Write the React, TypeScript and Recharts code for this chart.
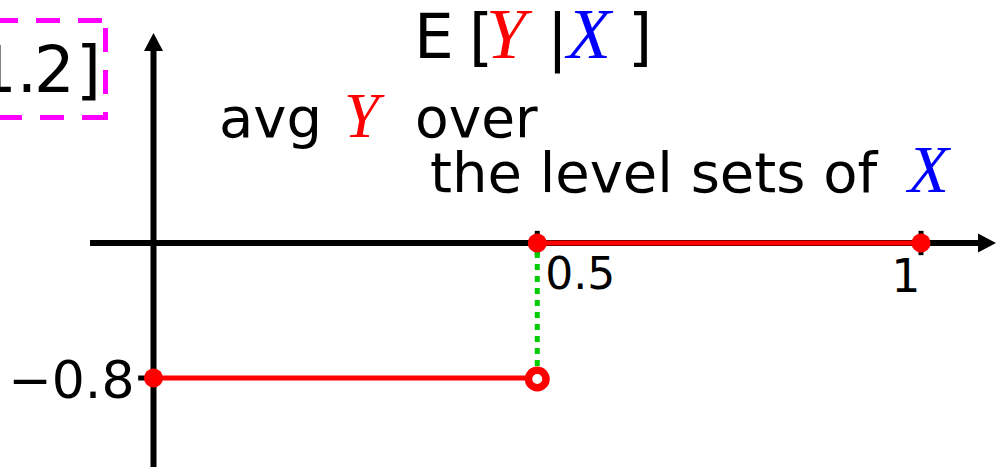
import React from 'react';
import { ComposedChart, Line, XAxis, YAxis, ReferenceLine, ReferenceDot } from 'recharts';

// ---- data ----
const lowerStep = [
  { x: 0, y: -0.8, end: 'closed' },
  { x: 0.5, y: -0.8, end: 'open' },
];
const upperStep = [
  { x: 0.5, y: 0, end: 'closed' },
  { x: 1, y: 0, end: 'closed' },
];
const jumpX = 0.5;
const jumpFrom = -0.8;
const jumpTo = 0;
const xTicks = [0.5, 1];
const xTickLabels = ['0.5', '1'];
const yTicks = [-0.8];
const yTickLabels = ['\u22120.8'];

// ---- layout ----
const W = 996;
const H = 467;
const X_DOMAIN: [number, number] = [-0.2, 1.0977];
const Y_DOMAIN: [number, number] = [-1.3274, 1.44];
const X_AXIS_START = -0.0827;
const Y_AXIS_TOP = 1.244;

const RED = '#ff0000';
const BLUE = '#0000ff';
const GREEN = '#00cc00';
const MAGENTA = '#ff00ff';
const SANS = '"DejaVu Sans", sans-serif';
const SERIF = '"Liberation Serif", serif';

const ArrowShape = (props: any) => {
  const { x1, y1, x2, y2 } = props;
  const dx = x2 - x1;
  const dy = y2 - y1;
  const len = Math.hypot(dx, dy) || 1;
  const ux = dx / len;
  const uy = dy / len;
  const L = 18;
  const hw = 9.5;
  const bx = x2 - ux * L;
  const by = y2 - uy * L;
  return (
    <g>
      <line x1={x1} y1={y1} x2={bx + ux * 2} y2={by + uy * 2} stroke="#000" strokeWidth={6} />
      <polygon
        points={`${x2},${y2} ${bx - uy * hw},${by + ux * hw} ${bx + uy * hw},${by - ux * hw}`}
        fill="#000"
      />
    </g>
  );
};

const EndDot = (p: any) => {
  const k = `d-${p.index}-${p.cx}-${p.cy}`;
  if (p.payload && p.payload.end === 'open') {
    return <circle key={k} cx={p.cx} cy={p.cy + 1} r={8.75} fill="#fff" stroke={RED} strokeWidth={7.5} />;
  }
  return <circle key={k} cx={p.cx} cy={p.cy} r={9.5} fill={RED} stroke="none" />;
};

const labelDot = (dx: number, dy: number, text: string, size: number, anchor: string) => (p: any) => (
  <text x={p.cx + dx} y={p.cy + dy} textAnchor={anchor} fontFamily={SANS} fontSize={size} fill="#000">
    {text}
  </text>
);

export default function App() {
  return (
    <div style={{ position: 'absolute', left: 0, top: 0, width: W, height: H, background: '#fff' }}>
      <ComposedChart width={W} height={H} margin={{ top: 0, right: 0, bottom: 0, left: 0 }}>
        <XAxis type="number" dataKey="x" domain={X_DOMAIN} allowDataOverflow hide />
        <YAxis type="number" dataKey="y" domain={Y_DOMAIN} allowDataOverflow hide />

        {/* axes */}
        <ReferenceLine
          segment={[{ x: X_AXIS_START, y: 0 }, { x: X_DOMAIN[1], y: 0 }]}
          ifOverflow="visible"
          shape={ArrowShape}
        />
        <ReferenceLine
          segment={[{ x: 0, y: Y_DOMAIN[0] }, { x: 0, y: Y_AXIS_TOP }]}
          ifOverflow="visible"
          shape={ArrowShape}
        />

        {/* tick marks */}
        {xTicks.map((t) => (
          <ReferenceLine
            key={'xt' + t}
            segment={[{ x: t, y: -0.072 }, { x: t, y: 0.072 }]}
            ifOverflow="visible"
            stroke="#000"
            strokeWidth={5}
          />
        ))}
        {yTicks.map((t) => (
          <ReferenceLine
            key={'yt' + t}
            segment={[{ x: -0.02, y: t }, { x: 0, y: t }]}
            ifOverflow="visible"
            stroke="#000"
            strokeWidth={5}
          />
        ))}

        {/* jump */}
        <ReferenceLine
          segment={[{ x: jumpX, y: jumpFrom }, { x: jumpX, y: jumpTo }]}
          ifOverflow="visible"
          stroke={GREEN}
          strokeWidth={5}
          strokeDasharray="6 6"
        />

        {/* tick labels */}
        <ReferenceDot x={xTicks[0]} y={0} r={0} fill="none" stroke="none" ifOverflow="visible"
          shape={labelDot(8, 46, xTickLabels[0], 44, 'start')} />
        <ReferenceDot x={xTicks[1]} y={0} r={0} fill="none" stroke="none" ifOverflow="visible"
          shape={labelDot(-15, 49, xTickLabels[1], 46, 'middle')} />
        <ReferenceDot x={0} y={yTicks[0]} r={0} fill="none" stroke="none" ifOverflow="visible"
          shape={labelDot(-19, 20, yTickLabels[0], 52, 'end')} />

        <Line data={lowerStep} dataKey="y" type="linear" stroke={RED} strokeWidth={5} dot={EndDot} activeDot={false} isAnimationActive={false} />
        <Line data={upperStep} dataKey="y" type="linear" stroke={RED} strokeWidth={5} dot={EndDot} activeDot={false} isAnimationActive={false} />
      </ComposedChart>

      <svg
        width={W}
        height={H}
        style={{ position: 'absolute', left: 0, top: 0, pointerEvents: 'none' }}
      >
        {/* magenta dashed box (cut by the left edge) */}
        <g stroke={MAGENTA} strokeWidth={5} fill="none" strokeDasharray="24 18">
          <line x1={102} y1={20.5} x2={-60} y2={20.5} />
          <line x1={105.5} y1={28} x2={105.5} y2={120} />
          <line x1={106} y1={117.5} x2={-60} y2={117.5} />
        </g>
        <text x={37} y={92} textAnchor="end" fontFamily={SANS} fontSize={64} fill="#000">1.</text>
        <text x={34} y={92} fontFamily={SANS} fontSize={64} fill="#000">2</text>
        <text x={76} y={92} fontFamily={SANS} fontSize={64} fill="#000">]</text>

        {/* title */}
        <text x={414} y={58} fontFamily={SANS} fontSize={63} fill="#000">E</text>
        <text x={469} y={58} fontFamily={SANS} fontSize={62} fill="#000">[</text>
        <text x={486} y={58} fontFamily={SERIF} fontStyle="italic" fontSize={72} fill={RED}>Y</text>
        <text x={547} y={58} fontFamily={SANS} fontSize={62} fill="#000">|</text>
        <text x={567} y={58} fontFamily={SERIF} fontStyle="italic" fontSize={72} fill={BLUE}>X</text>
        <text x={628} y={58} fontFamily={SANS} fontSize={62} fill="#000">]</text>

        <text x={219} y={137} fontFamily={SANS} fontSize={56} fill="#000">avg</text>
        <text x={344} y={137} fontFamily={SERIF} fontStyle="italic" fontSize={63} fill={RED}>Y</text>
        <text x={415} y={137} fontFamily={SANS} fontSize={55} fill="#000">over</text>

        <text x={430} y={192} fontFamily={SANS} fontSize={56} fill="#000">the level sets of</text>
        <text x={908} y={192} fontFamily={SERIF} fontStyle="italic" fontSize={67} fill={BLUE}>X</text>
      </svg>
    </div>
  );
}
